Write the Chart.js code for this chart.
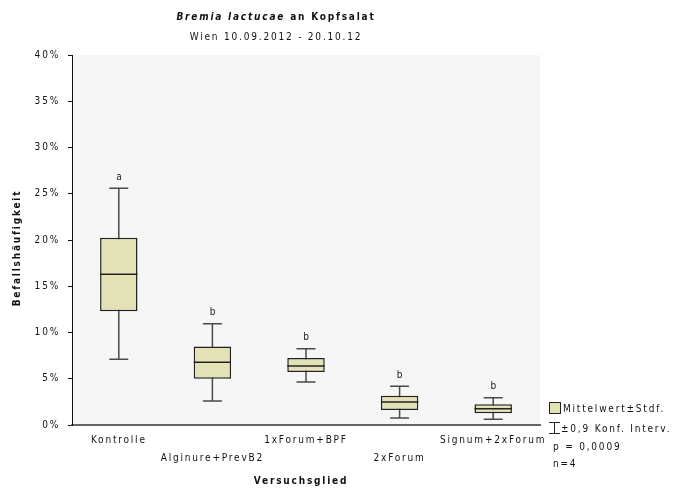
<!DOCTYPE html>
<html>
<head>
<meta charset="utf-8">
<script src="https://cdn.jsdelivr.net/npm/chart.js@4/dist/chart.umd.min.js"></script>
<style>
  html, body { margin: 0; padding: 0; background: #ffffff; }
  #wrap { width: 683px; height: 495px; position: relative; }
</style>
</head>
<body>
<div id="wrap"><canvas id="c" width="683" height="495"></canvas></div>
<script>
// Treatments (x categories)
const categories = ['Kontrolle', 'Alginure+PrevB2', '1xForum+BPF', '2xForum', 'Signum+2xForum'];
// Mean infestation frequency (%)
const means = [16.3, 6.78, 6.38, 2.49, 1.76];
// Mean ± standard deviation (box)
const sdLow  = [12.3, 5.0, 5.73, 1.62, 1.26];
const sdHigh = [20.25, 8.5, 7.24, 3.17, 2.24];
// ±0,9 confidence interval (whiskers)
const ciLow  = [7.1, 2.6, 4.65, 0.76, 0.62];
const ciHigh = [25.6, 10.95, 8.25, 4.2, 2.95];
// Significance groups
const groups = ['a', 'b', 'b', 'b', 'b'];
// Y axis ticks
const yTicks = [0, 5, 10, 15, 20, 25, 30, 35, 40];

const FONT = "'Liberation Sans Narrow', 'DejaVu Sans Condensed', 'Liberation Sans', sans-serif";
const SPACING = '1.8px';
const BOX_FILL = '#e3e1b6';
const BOX_LINE = '#222222';
const WHISKER = '#4a4a4a';

// staggered category labels: every second one goes on a second line
const xLabels = categories.map((c, i) => i % 2 === 1 ? ['', c] : [c]);

const boxPlotPlugin = {
  id: 'boxPlot',
  beforeDraw(chart) {
    const ctx = chart.ctx;
    ctx.letterSpacing = SPACING;
    const a = chart.chartArea;
    ctx.save();
    ctx.fillStyle = '#f6f6f6';
    ctx.fillRect(a.left, a.top, a.right - a.left, a.bottom - a.top);
    ctx.restore();
  },
  beforeDatasetsDraw(chart) {
    const ctx = chart.ctx;
    const xs = chart.scales.x, ys = chart.scales.y;
    ctx.save();
    ctx.strokeStyle = WHISKER;
    ctx.lineWidth = 1.5;
    categories.forEach((c, i) => {
      const x = xs.getPixelForValue(i);
      const yt = ys.getPixelForValue(ciHigh[i]);
      const yb = ys.getPixelForValue(ciLow[i]);
      const cap = 9.5;
      ctx.beginPath();
      ctx.moveTo(x, yt); ctx.lineTo(x, yb);
      ctx.moveTo(x - cap, yt); ctx.lineTo(x + cap, yt);
      ctx.moveTo(x - cap, yb); ctx.lineTo(x + cap, yb);
      ctx.stroke();
    });
    ctx.restore();
  },
  afterDatasetsDraw(chart) {
    const ctx = chart.ctx;
    const xs = chart.scales.x, ys = chart.scales.y;
    const meta = chart.getDatasetMeta(0);
    ctx.save();
    ctx.strokeStyle = BOX_LINE;
    ctx.lineWidth = 1.5;
    categories.forEach((c, i) => {
      const bar = meta.data[i];
      const half = bar.width / 2;
      const x = bar.x;
      const ym = ys.getPixelForValue(means[i]);
      ctx.beginPath();
      ctx.moveTo(x - half, ym); ctx.lineTo(x + half, ym);
      ctx.stroke();
      // group letter above the whisker
      ctx.fillStyle = '#222';
      ctx.font = '10px ' + FONT;
      ctx.textAlign = 'center';
      ctx.textBaseline = 'bottom';
      ctx.fillText(groups[i], xs.getPixelForValue(i) + 1, ys.getPixelForValue(ciHigh[i]) - 6);
    });
    ctx.restore();
  },
  afterDraw(chart) {
    const ctx = chart.ctx;
    ctx.save();
    ctx.fillStyle = '#111';
    ctx.textBaseline = 'middle';

    // title: italic species name followed by host
    const t1 = 'Bremia lactucae', t2 = ' an Kopfsalat';
    ctx.font = 'italic bold 10px ' + FONT;
    const w1 = ctx.measureText(t1).width;
    ctx.font = 'bold 10px ' + FONT;
    const w2 = ctx.measureText(t2).width;
    const tx = 276 - (w1 + w2) / 2;
    ctx.textAlign = 'left';
    ctx.font = 'italic bold 10px ' + FONT;
    ctx.fillText(t1, tx, 17);
    ctx.font = 'bold 10px ' + FONT;
    ctx.fillText(t2, tx + w1, 17);

    ctx.font = '10px ' + FONT;
    ctx.textAlign = 'center';
    ctx.fillText('Wien 10.09.2012 - 20.10.12', 276, 37);

    // axis titles
    ctx.font = 'bold 10px ' + FONT;
    ctx.fillText('Versuchsglied', 301, 481);
    ctx.save();
    ctx.translate(17, 248);
    ctx.rotate(-Math.PI / 2);
    ctx.fillText('Befallshäufigkeit', 0, 0);
    ctx.restore();

    // legend / statistics block
    ctx.fillStyle = BOX_FILL;
    ctx.fillRect(549.5, 402.5, 11, 11);
    ctx.strokeStyle = BOX_LINE;
    ctx.lineWidth = 1;
    ctx.strokeRect(549.5, 402.5, 11, 11);
    ctx.beginPath();
    ctx.moveTo(554.5, 422); ctx.lineTo(554.5, 434);
    ctx.moveTo(549, 422.5); ctx.lineTo(560, 422.5);
    ctx.moveTo(549, 433.5); ctx.lineTo(560, 433.5);
    ctx.stroke();
    ctx.fillStyle = '#111';
    ctx.font = '10px ' + FONT;
    ctx.textAlign = 'left';
    ctx.fillText('Mittelwert±Stdf.', 563, 409);
    ctx.fillText('±0,9 Konf. Interv.', 561, 429);
    ctx.fillText('p = 0,0009', 553, 447);
    ctx.fillText('n=4', 553, 464);
    ctx.restore();
  }
};

new Chart(document.getElementById('c'), {
  type: 'bar',
  data: {
    labels: xLabels,
    datasets: [{
      data: sdLow.map((lo, i) => [lo, sdHigh[i]]),
      backgroundColor: BOX_FILL,
      borderColor: BOX_LINE,
      borderWidth: 1.5,
      borderSkipped: false,
      barPercentage: 0.4,
      categoryPercentage: 1
    }]
  },
  options: {
    responsive: false,
    animation: false,
    events: [],
    layout: { padding: { top: 55, right: 143, left: 0, bottom: 0 } },
    plugins: { legend: { display: false }, title: { display: false }, tooltip: { enabled: false } },
    scales: {
      x: {
        afterFit(s) { s.height = 70; },
        grid: { display: true, drawOnChartArea: false, drawTicks: false },
        border: { display: true, color: '#666666', width: 2 },
        ticks: {
          color: '#111',
          font: { family: FONT, size: 10, lineHeight: 1.8 },
          padding: 6,
          maxRotation: 0,
          autoSkip: false
        }
      },
      y: {
        min: 0,
        max: 40,
        afterFit(s) { s.width = 72; },
        afterBuildTicks(s) { s.ticks = yTicks.map(v => ({ value: v })); },
        grid: { display: true, drawOnChartArea: false, drawTicks: true, tickLength: 4, color: '#111' },
        border: { display: true, color: '#111', width: 1 },
        ticks: {
          color: '#111',
          font: { family: FONT, size: 10 },
          padding: 8,
          callback: v => v + '%'
        }
      }
    }
  },
  plugins: [boxPlotPlugin]
});
</script>
</body>
</html>
